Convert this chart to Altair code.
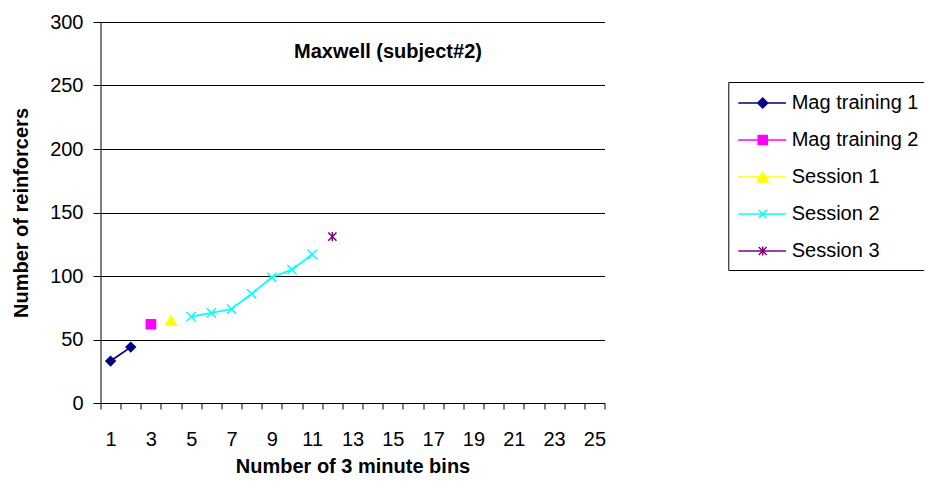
import altair as alt
import pandas as pd

# ---- data ----
series_names = ["Mag training 1", "Mag training 2", "Session 1", "Session 2", "Session 3"]
series_colors = ["#000080", "#FF00FF", "#FFFF00", "#00FFFF", "#800080"]
mag1_bins = [1, 2]
mag1_values = [33, 44]
mag2_bins = [3]
mag2_values = [62]
sess1_bins = [4]
sess1_values = [65]
sess2_bins = [5, 6, 7, 8, 9, 10, 11]
sess2_values = [68, 71, 74, 86, 99, 105, 117]
sess3_bins = [12]
sess3_values = [131]

bin_categories = list(range(1, 26))
y_ticks = [0, 50, 100, 150, 200, 250, 300]
chart_title = "Maxwell (subject#2)"
x_title = "Number of 3 minute bins"
y_title = "Number of reinforcers"

rows = []
for name, bins, vals in zip(
    series_names,
    [mag1_bins, mag2_bins, sess1_bins, sess2_bins, sess3_bins],
    [mag1_values, mag2_values, sess1_values, sess2_values, sess3_values],
):
    for b, v in zip(bins, vals):
        rows.append({"series": name, "bin": b, "value": v})
df = pd.DataFrame(rows)

FONT = "Liberation Sans"

# marker shapes for the data points (one per series)
point_shapes = [
    "diamond",
    "square",
    "M0,-1L1.15,1L-1.15,1Z",
    "M-1,-1L1,1M-1,1L1,-1",
    "M-0.9,-0.9L0.9,0.9M-0.9,0.9L0.9,-0.9M0,-1V1",
]
# legend symbols: line segment plus marker
legend_shapes = [
    "M-1,0H3.34M0.763,0L1.218,-0.455L1.673,0L1.218,0.455Z",
    "M-1,0H3.34M0.81,-0.41H1.63V0.41H0.81Z",
    "M-1,0H3.34M1.218,-0.45L1.718,0.45L0.718,0.45Z",
    "M-1,0H3.34M0.86,-0.36L1.58,0.36M0.86,0.36L1.58,-0.36",
    "M-1,0H3.34M0.86,-0.36L1.58,0.36M0.86,0.36L1.58,-0.36M1.218,-0.42V0.42",
]

x_enc = alt.X(
    "bin:O",
    scale=alt.Scale(type="band", domain=bin_categories, paddingInner=0, paddingOuter=0),
    axis=alt.Axis(
        title=x_title,
        labelAngle=0,
        labelExpr="datum.value % 2 == 1 ? datum.label : ''",
        tickBand="extent",
        tickSize=6,
        labelPadding=20,
        titlePadding=7,
        grid=False,
    ),
)
y_enc = alt.Y(
    "value:Q",
    scale=alt.Scale(domain=[0, 300], nice=False, zero=True),
    axis=alt.Axis(
        title=y_title,
        values=y_ticks,
        grid=True,
        gridColor="black",
        gridOpacity=1,
        gridWidth=1,
        tickSize=7.5,
        labelPadding=10,
        titlePadding=18,
    ),
)

color_scale = alt.Scale(domain=series_names, range=series_colors)

data_layers = []
for name, col, shp in zip(series_names, series_colors, point_shapes):
    base = alt.Chart(df).transform_filter(alt.datum.series == name)
    data_layers.append(
        base.mark_line(strokeWidth=1.75, color=col).encode(x=x_enc, y=y_enc)
    )
    data_layers.append(
        base.mark_point(opacity=1, strokeWidth=1.5, size=85, shape=shp, fill=col, stroke=col, filled=True)
        .encode(x=x_enc, y=y_enc)
    )

legend_def = alt.Legend(
    title=None,
    orient="none",
    legendX=627.8,
    legendY=60,
    padding=9,
    strokeColor="black",
    labelFont=FONT,
    labelFontSize=20,
    labelColor="black",
    labelOffset=30.4,
    labelLimit=400,
    symbolSize=484,
    symbolStrokeWidth=1.5,
    symbolOpacity=1,
    rowPadding=15,
)

legend_layer = alt.Chart(df).mark_point(opacity=0, strokeWidth=1.5).encode(
    x=x_enc,
    y=y_enc,
    fill=alt.Fill("series:N", scale=color_scale, legend=legend_def),
    stroke=alt.Stroke("series:N", scale=color_scale, legend=legend_def),
    shape=alt.Shape("series:N", scale=alt.Scale(domain=series_names, range=legend_shapes), legend=legend_def),
)

title_layer = alt.Chart(pd.DataFrame({"t": [chart_title]})).mark_text(
    font=FONT, fontSize=20, fontWeight="bold", align="center", baseline="alphabetic", color="black"
).encode(
    x=alt.value(287.5),
    y=alt.value(36.3),
    text="t:N",
)

chart = (
    alt.layer(*data_layers, legend_layer, title_layer)
    .properties(
        width=504,
        height=381,
        autosize=alt.AutoSizeParams(type="none"),
        padding={"left": 92.5, "top": 14, "right": 319.5, "bottom": 72},
        background="white",
    )
    .configure_view(stroke=None)
    .configure_axis(
        labelFont=FONT,
        labelFontSize=20,
        labelColor="black",
        titleFont=FONT,
        titleFontSize=20,
        titleFontWeight="bold",
        titleColor="black",
        domainColor="black",
        domainWidth=1,
        tickColor="black",
        tickWidth=1,
    )
)

chart.save("out.html", embed_options={"renderer": "svg", "actions": False})
